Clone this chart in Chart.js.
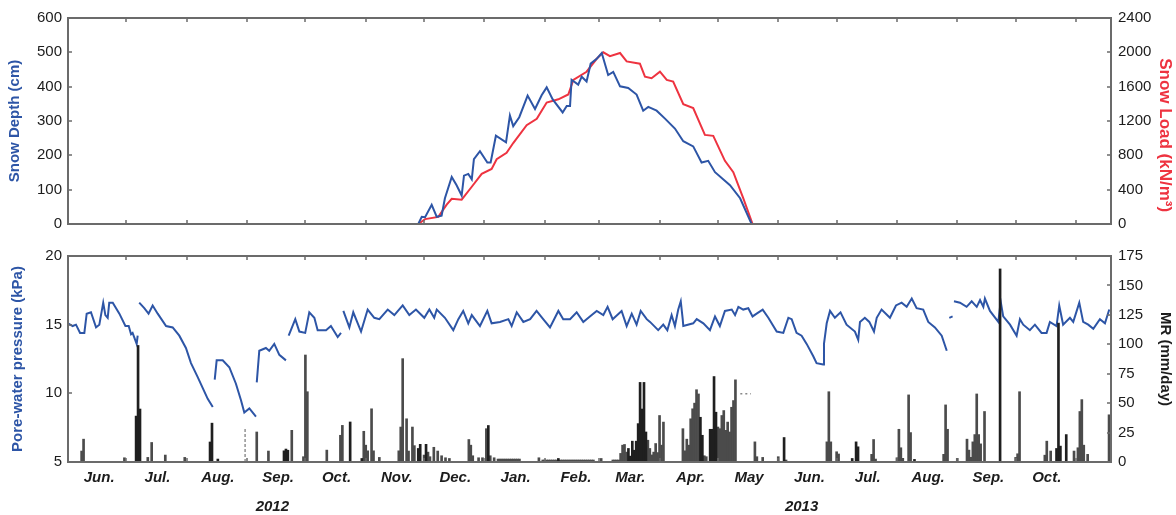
<!DOCTYPE html>
<html>
<head>
<meta charset="utf-8">
<script src="https://cdn.jsdelivr.net/npm/chart.js@4.4.1/dist/chart.umd.min.js"></script>
<style>
  html, body { margin: 0; padding: 0; background: #fff; }
  #wrap { position: relative; width: 1176px; height: 515px; overflow: hidden; }
  canvas { position: absolute; left: 0; }
  #top { top: 0; }
  #bottom { top: 240px; }
</style>
</head>
<body>
<div id="wrap">
  <canvas id="top" width="1176" height="240"></canvas>
  <canvas id="bottom" width="1176" height="275"></canvas>
</div>
<script>
// x values are days counted from 1 Jun 2012
const DAY = 86400000;
const START = Date.UTC(2012, 5, 1);
const X_MAX = 536;

const monthNames = ['Jun.', 'Jul.', 'Aug.', 'Sep.', 'Oct.', 'Nov.', 'Dec.', 'Jan.', 'Feb.', 'Mar.', 'Apr.', 'May',
                    'Jun.', 'Jul.', 'Aug.', 'Sep.', 'Oct.'];
const yearNames = ['2012', '2013'];
const yearDays = [105, 377];

const depthTicks = [0, 100, 200, 300, 400, 500, 600];
const loadTicks = [0, 400, 800, 1200, 1600, 2000, 2400];
const pressureTicks = [5, 10, 15, 20];
const mrTicks = [0, 25, 50, 75, 100, 125, 150, 175];

// snow depth (cm)
const snowDepthDays = [180, 181.8, 183.5, 186.9, 189.5, 192, 193.7, 197.2, 199.7, 202.3, 203.5, 205.7, 207.5, 208.6, 211.7,
  215.5, 217.2, 219.9, 225.1, 227.1, 228.8, 231.9, 236.2, 240, 243.4, 246, 249.1, 254.2, 256.3, 258, 258.8, 262.2, 264,
  266.5, 268.6, 271.7, 274.3, 277.6, 280.2, 283.7, 287.9, 292.2, 295.6, 298.2, 302.5, 306.8, 311.9, 316.2, 321.3, 325.6,
  329, 332.5, 340.2, 345.4, 351.3];
const snowDepth = [0, 21, 20, 56, 21, 24, 75, 137, 113, 83, 141, 146, 130, 189, 212,
  179, 179, 257, 238, 316, 285, 311, 374, 335, 375, 398, 363, 325, 344, 344, 420, 406, 429,
  415, 467, 481, 498, 434, 443, 401, 396, 377, 330, 341, 330, 307, 278, 241, 226, 179,
  184, 151, 113, 75, 0];

// snow load (kN/m3)
const snowLoadDays = [180, 183.5, 190.3, 194.6, 197.2, 202.3, 207.5, 212.6, 217.7, 220.3, 225.4, 228.8, 235.7, 240.9,
  246, 252, 257.1, 259.7, 266.5, 271.7, 275.1, 278.5, 283.7, 287.1, 293.9, 296.5, 299.9, 304.2, 307.7, 311, 316.2,
  321.3, 327.3, 331.6, 337.6, 341.9, 347, 351.8];
const snowLoad = [0, 57, 83, 226, 294, 283, 434, 585, 642, 755, 830, 943, 1151, 1226,
  1415, 1453, 1509, 1679, 1774, 1925, 2000, 1955, 1992, 1894, 1868, 1717, 1698, 1774, 1679, 1660, 1396,
  1351, 1038, 1027, 736, 603, 302, 0];

// pore-water pressure (kPa), null = gap in record
const porePressure = [[0,15.1],[2.4,14.9],[4.1,15.0],[6.2,14.4],[8.4,14.4],[9.6,15.8],[11.8,15.9],[14.4,14.8],[16.1,15.0],
  [18.1,16.6],[19.2,15.7],[20.4,15.5],[21.2,16.6],[23,16.6],[26.4,15.8],[29.5,14.9],[31.2,14.9],[32.4,14.3],[33.2,14.4],
  [35.3,13.6],[35.8,14.2],[36.2,null],[36.6,16.6],[39.2,16.2],[41.4,15.8],[43.5,16.4],[46.1,15.8],[50.4,14.9],[53.8,14.8],
  [57.2,14.2],[60.6,13.3],[63.2,12.2],[66.6,11.2],[69.2,10.4],[71.8,9.6],[74.4,9.0],[74.9,null],[75.4,11.0],[76.4,12.4],
  [79.5,12.4],[82.9,11.9],[86.3,10.7],[88.9,9.5],[90.6,8.6],[93.2,8.9],[96.6,8.3],[96.8,null],[97,10.8],[98.3,13.1],
  [101.7,13.3],[103.4,13.1],[106,13.6],[108.6,12.8],[112,12.4],[112.7,null],[113.4,14.2],[116.8,15.4],[118.9,14.5],
  [121.9,14.4],[124,15.9],[126.6,15.5],[128.3,14.6],[132.6,14.6],[135.1,14.9],[138.6,14.1],[140.3,14.4],[140.9,null],
  [141.5,16.0],[144.6,14.8],[146.6,15.9],[150.6,14.5],[154,16.1],[157.4,15.5],[160,15.4],[164.3,16.1],[167.7,15.7],
  [172,16.4],[175.4,15.7],[178.8,16.1],[183.1,15.5],[185.7,16.1],[188.2,15.5],[189.5,16.1],[193.7,15.5],[198,14.6],
  [200.6,15.4],[203.1,16.0],[205.7,15.1],[207.5,15.7],[211.7,14.9],[215.5,16.0],[217.7,15.1],[222,15.2],[226.3,15.4],
  [228,14.9],[230.6,15.9],[234,15.2],[237.5,15.4],[240.8,16.0],[244.2,15.4],[247.7,14.8],[252,16.0],[254.5,15.4],
  [258,15.4],[261.4,15.9],[264.8,15.2],[268.2,15.6],[271.7,16.0],[275.1,15.7],[277.3,16.3],[279.9,15.4],[284.5,16.0],
  [287.1,14.9],[289.7,15.8],[292.2,15.0],[294.3,16.0],[297.4,15.4],[299.1,15.2],[303.3,14.6],[305.9,15.0],[308,14.6],
  [310.2,15.7],[311.9,14.9],[313.6,16.1],[314.9,16.7],[315.9,15.4],[316.2,14.9],[321.3,15.1],[323.1,15.4],[326.5,15.1],
  [329.9,14.6],[332.5,15.6],[335,14.9],[337.6,16.0],[341.1,16.1],[342.8,15.7],[344.5,16.3],[347,16.1],[349.6,16.2],
  [351.8,15.6],[353.9,15.8],[357,16.1],[359.9,15.5],[364.2,14.5],[367.6,14.4],[370.2,15.5],[371.9,15.4],[374.4,14.4],
  [377,14.2],[379.6,13.6],[383,12.7],[384.7,12.2],[388.1,12.1],[388.5,13.6],[389.9,15.1],[391.6,16.0],[394.1,15.5],
  [397,15.9],[400.1,15.0],[404.4,14.5],[406.1,13.9],[407,15.2],[409.5,15.5],[411.8,15.2],[414.2,14.5],[415.6,15.5],
  [418.1,16.1],[422.4,15.5],[425.5,16.4],[428.4,16.6],[431,16.3],[433.6,16.9],[436.1,16.2],[439.5,16.1],[442.1,15.2],
  [445.5,14.8],[449,14.2],[451.6,13.1],[452.2,null],[452.9,15.5],[454.6,15.6],[454.9,null],[455.3,16.7],[458.4,16.6],
  [461.8,16.3],[464.4,16.7],[467,16.3],[468.7,16.8],[470.4,16.3],[471.2,16.9],[473.8,16.0],[478.1,15.2],[479.3,16.7],
  [480.6,15.6],[484.1,15.0],[487.5,14.2],[489.2,15.4],[490.9,15.0],[494.3,14.6],[496.9,15.0],[500.3,14.4],[502.9,14.4],
  [504.6,15.2],[508,14.9],[509.4,16.4],[511.4,15.0],[514.9,15.5],[516.6,15.2],[519.7,16.6],[521.7,15.2],[524.3,15.0],
  [526.9,14.7],[530.3,15.4],[532.9,15.1],[535.1,16.1]];

// MR (mm/day), daily bars: [day, value]
const mrDark = [[35,39],[36,99],[37,45],[73,17],[74,33],[77,2.5],[111,9.5],[112,11],[113,10],[145,34],[151,3],
  [180,11.5],[181,15],[184,15],[216,31],[252,3],[288,11.5],[289,5],[290,17.7],[291,10],[292,17.7],[293,32.6],
  [294,67.6],[295,45],[296,67.6],[297,25.5],[325,38],[326,22.7],[330,27.8],[331,27.8],[332,72.6],[333,42.3],
  [368,20.8],[403,3],[405,17.1],[406,12.9],[435,2.2],[479,164],[508,11.5],[509,118],[510,13.5],[513,23.3]];
const mrGrey = [[7,9.3],[8,19.4],[29,3.6],[41,3.9],[43,16.6],[50,5.9],[60,3.9],[97,25.5],[103,9.3],[115,26.9],
  [121,4.5],[122,90.9],[123,59.7],[133,10.1],[140,22.7],[141,31.1],[152,26.1],[153,14.3],[154,9.5],[156,45.2],
  [157,9.5],[160,3.9],[170,9.5],[171,29.7],[172,87.8],[174,36.7],[175,9.3],[177,29.7],[178,13.9],[183,5.9],[185,8.4],
  [186,4.5],[188,12.5],[190,9.3],[192,5.3],[194,3.6],[196,3],[206,19.1],[207,14.3],[208,5.3],[211,3.6],[213,3.6],
  [215,28.3],[217,5.3],[219,3.6],[221,2.5],[222,2.5],[223,2.5],[224,2.5],[225,2.5],[226,2.5],[227,2.5],[228,2.5],
  [229,2.5],[230,2.5],[231,2.5],[232,2.5],[242,3.6],[244,1.7],[245,1.7],[246,1.7],[247,1.7],[248,1.7],[249,1.7],
  [250,1.7],[251,1.7],[253,1.7],[254,1.7],[255,1.7],[256,1.7],[257,1.7],[258,1.7],[259,1.7],[260,1.7],[261,1.7],
  [262,1.7],[263,1.7],[264,1.7],[265,1.7],[266,1.7],[267,1.7],[268,1.7],[269,1.7],[270,1.7],[274,3],[280,1.7],
  [281,1.7],[282,1.7],[283,1.7],[284,7.3],[285,14.3],[286,14.9],[287,8.4],[298,18.5],[299,11.5],[300,6],[301,8.4],
  [302,15.7],[303,8],[304,39.5],[305,14.3],[306,33.9],[316,28.3],[317,9.5],[318,19.4],[319,14.3],[320,36.7],
  [321,45.2],[322,50],[323,61.4],[324,57.8],[327,5.3],[328,4.5],[334,29.7],[335,28.3],[336,39.5],[337,43.7],
  [338,26.9],[339,33.9],[340,25.5],[341,46.5],[342,52.2],[343,69.8],[353,17.1],[354,4.5],[357,3.9],[365,4.5],
  [369,1.7],[390,17.1],[391,59.7],[392,17.1],[395,8.7],[396,6.8],[413,6.5],[414,19.1],[415,2.5],[426,3.6],
  [427,27.8],[428,12.1],[429,3.1],[432,57],[433,25],[450,6.5],[451,48.5],[452,27.8],[457,3.1],[462,19.4],
  [463,10.1],[464,4],[465,17.1],[466,23.3],[467,57.8],[468,23.3],[469,15.4],[471,42.9],[487,3.9],[488,7],
  [489,59.7],[502,5.8],[503,17.7],[505,9.3],[517,9.3],[519,12.1],[520,42.9],[521,53],[522,14.3],[524,6.5],[535,40.1]];
// dashed / dotted marks in the MR record
const mrDashMark = [[91,0],[91,28]];
const mrDotMark = [[345.5,58],[351,58]];

const BLUE = '#2d55a6';
const RED = '#ee3340';
const DARK = '#1f1f1f';
const GREY = '#4b4b4b';
const FRAME = '#6b6b6b';
const TEXT = '#1c1c1c';
const TICK_LEN = 4;

Chart.defaults.font.family = '"Liberation Sans", Arial, Helvetica, sans-serif';
Chart.defaults.font.size = 15;
Chart.defaults.color = TEXT;

const monthStarts = [];
for (let m = 0; m <= monthNames.length; m++) {
  monthStarts.push((Date.UTC(2012, 5 + m, 1) - START) / DAY);
}
const monthMids = monthNames.map((_, i) => monthStarts[i] + 16);

const toXY = (days, vals) => days.map((d, i) => ({ x: d, y: vals[i] }));
const pairs = arr => arr.map(p => ({ x: p[0], y: p[1] }));

// box round the plot area with inward ticks, Matlab style
const framePlugin = {
  id: 'frame',
  afterDraw(chart) {
    const { ctx, chartArea: a, scales } = chart;
    ctx.save();
    ctx.strokeStyle = FRAME;
    ctx.lineWidth = 1.5;
    ctx.beginPath();
    monthStarts.forEach(d => {
      const px = Math.round(scales.x.getPixelForValue(d));
      if (px <= a.left + 2 || px >= a.right - 2) return;
      ctx.moveTo(px, a.top); ctx.lineTo(px, a.top + TICK_LEN);
      ctx.moveTo(px, a.bottom); ctx.lineTo(px, a.bottom - TICK_LEN);
    });
    ['yL', 'yR'].forEach(id => {
      const s = scales[id];
      s.ticks.forEach(t => {
        const py = Math.round(s.getPixelForValue(t.value));
        if (py <= a.top + 2 || py >= a.bottom - 2) return;
        if (s.position === 'left') { ctx.moveTo(a.left, py); ctx.lineTo(a.left + TICK_LEN, py); }
        else { ctx.moveTo(a.right, py); ctx.lineTo(a.right - TICK_LEN, py); }
      });
    });
    ctx.stroke();
    ctx.lineWidth = 2;
    ctx.strokeRect(a.left, a.top, a.right - a.left, a.bottom - a.top);
    ctx.restore();
  }
};

function yScale(position, min, max, tickValues, title, color, titlePad, titleSize) {
  return {
    type: 'linear',
    position: position,
    min: min,
    max: max,
    afterBuildTicks: s => { s.ticks = tickValues.map(v => ({ value: v })); },
    ticks: {
      padding: position === 'left' ? 6 : 7, color: TEXT, font: { size: 15 },
      callback: v => String(v)
    },
    grid: { display: false, drawTicks: false },
    border: { display: false },
    title: {
      display: true,
      text: title,
      color: color,
      font: { size: titleSize || 15, weight: 'bold' },
      padding: { top: titlePad, bottom: 0 }
    },
    afterFit: s => { s.width = position === 'left' ? 68 : 65; }
  };
}

const lineStyle = color => ({
  type: 'line',
  borderColor: color,
  borderWidth: 2,
  pointRadius: 0,
  tension: 0,
  spanGaps: false,
  order: 2
});

new Chart(document.getElementById('top'), {
  data: {
    datasets: [
      Object.assign(lineStyle(BLUE), { label: 'Snow Depth', data: toXY(snowDepthDays, snowDepth), yAxisID: 'yL' }),
      Object.assign(lineStyle(RED), { label: 'Snow Load', data: toXY(snowLoadDays, snowLoad), yAxisID: 'yR' })
    ]
  },
  options: {
    responsive: false,
    animation: false,
    layout: { padding: { top: 18, bottom: 10, left: 0, right: 0 } },
    plugins: { legend: { display: false }, tooltip: { enabled: false } },
    scales: {
      x: { type: 'linear', min: 0, max: X_MAX, offset: false, display: false },
      yL: yScale('left', 0, 600, depthTicks, 'Snow Depth (cm)', BLUE, 6),
      // leading spaces push the rotated title down, as in the original figure
      yR: yScale('right', 0, 2400, loadTicks, '      Snow Load (kN/m³)', RED, 1, 17)
    }
  },
  plugins: [framePlugin]
});

new Chart(document.getElementById('bottom'), {
  data: {
    datasets: [
      Object.assign(lineStyle(BLUE), { label: 'Pore-water pressure', data: pairs(porePressure), yAxisID: 'yL' }),
      { type: 'bar', label: 'MR', data: pairs(mrGrey), yAxisID: 'yR', backgroundColor: GREY,
        barThickness: 2, grouped: false, order: 1 },
      { type: 'bar', label: 'MR', data: pairs(mrDark), yAxisID: 'yR', backgroundColor: DARK,
        barThickness: 2, grouped: false, order: 0 },
      { type: 'line', data: pairs(mrDashMark), yAxisID: 'yR', borderColor: '#777', borderWidth: 1.2,
        borderDash: [3, 2], pointRadius: 0, order: 0 },
      { type: 'line', data: pairs(mrDotMark), yAxisID: 'yR', borderColor: '#888', borderWidth: 1.5,
        borderDash: [2, 3], pointRadius: 0, order: 0 }
    ]
  },
  options: {
    responsive: false,
    animation: false,
    layout: { padding: { top: 14, bottom: 0, left: 0, right: 0 } },
    plugins: { legend: { display: false }, tooltip: { enabled: false } },
    scales: {
      x: {
        type: 'linear', min: 0, max: X_MAX, position: 'bottom', weight: 0, offset: false,
        afterBuildTicks: s => { s.ticks = monthMids.map(v => ({ value: v })); },
        ticks: {
          callback: (v, i) => monthNames[i],
          autoSkip: false, maxRotation: 0, padding: 7,
          font: { size: 15, weight: 'bold', style: 'italic' }, color: TEXT
        },
        grid: { display: false, drawTicks: false, offset: false },
        border: { display: false },
        afterFit: s => { s.height = 25; }
      },
      xYear: {
        type: 'linear', min: 0, max: X_MAX, position: 'bottom', weight: 1, offset: false,
        afterBuildTicks: s => { s.ticks = yearDays.map(v => ({ value: v })); },
        ticks: {
          callback: (v, i) => yearNames[i],
          autoSkip: false, maxRotation: 0, padding: 11,
          font: { size: 15, weight: 'bold', style: 'italic' }, color: TEXT
        },
        grid: { display: false, drawTicks: false, offset: false },
        border: { display: false },
        afterFit: s => { s.height = 28; }
      },
      yL: yScale('left', 5, 20, pressureTicks, 'Pore-water pressure (kPa)', BLUE, 9),
      yR: yScale('right', 0, 175, mrTicks, 'MR (mm/day)', TEXT, 2)
    }
  },
  plugins: [framePlugin]
});
</script>
</body>
</html>
